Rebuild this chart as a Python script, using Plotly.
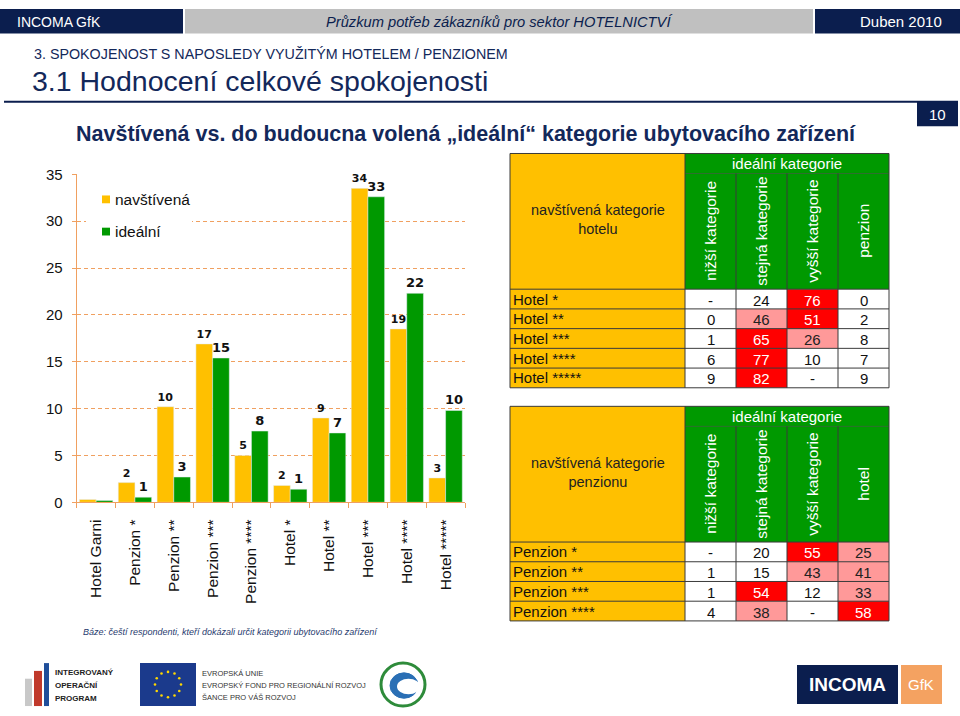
import math
import plotly.graph_objects as go

W, H = 960, 716

# ---------------- data ----------------
categories = ["Hotel Garni", "Penzion *", "Penzion **", "Penzion ***", "Penzion ****",
              "Hotel *", "Hotel **", "Hotel ***", "Hotel ****", "Hotel *****"]
navstivena = [0.3, 2.1, 10.2, 16.9, 5.0, 1.8, 9.0, 33.5, 18.5, 2.6]
idealni = [0.2, 0.55, 2.7, 15.4, 7.6, 1.4, 7.4, 32.6, 22.3, 9.8]
navstivena_labels = ["", "2", "10", "17", "5", "2", "9", "34", "19", "3"]
idealni_labels = ["", "1", "3", "15", "8", "1", "7", "33", "22", "10"]
series_names = ["navštívená", "ideální"]
y_ticks = [0, 5, 10, 15, 20, 25, 30, 35]

hotel_rows = ["Hotel *", "Hotel **", "Hotel ***", "Hotel ****", "Hotel *****"]
hotel_cols = ["nižší kategorie", "stejná kategorie", "vyšší kategorie", "penzion"]
hotel_nizsi = [None, 0, 1, 6, 9]
hotel_stejna = [24, 46, 65, 77, 82]
hotel_vyssi = [76, 51, 26, 10, None]
hotel_penzion = [0, 2, 8, 7, 9]

penzion_rows = ["Penzion *", "Penzion **", "Penzion ***", "Penzion ****"]
penzion_cols = ["nižší kategorie", "stejná kategorie", "vyšší kategorie", "hotel"]
penzion_nizsi = [None, 1, 1, 4]
penzion_stejna = [20, 15, 54, 38]
penzion_vyssi = [55, 43, 12, None]
penzion_hotel = [25, 41, 33, 58]

# ---------------- style ----------------
NAVY = "#0B1E4E"
TXT_NAVY = "#13285A"
ORANGE = "#FFC000"
GREEN = "#009900"
RED = "#FF0000"
PINK = "#FF9999"
AXIS_OR = "#F0A060"
FONT = "Liberation Sans"
BOLD = "DejaVu Sans"

shapes = []
annotations = []


def px(x):
    return x / W


def py(y):
    return 1 - y / H


def rect(x0, y0, x1, y1, fill, line=None, lw=0, kind="rect"):
    shapes.append(dict(type=kind, xref="paper", yref="paper",
                       x0=px(x0), x1=px(x1), y0=py(y1), y1=py(y0),
                       fillcolor=fill, line=dict(color=line or fill, width=lw),
                       layer="above"))


def hline(x0, x1, y, color="#3A3A3A", w=1):
    shapes.append(dict(type="line", xref="paper", yref="paper",
                       x0=px(x0), x1=px(x1), y0=py(y), y1=py(y),
                       line=dict(color=color, width=w), layer="above"))


def vline(x, y0, y1, color="#3A3A3A", w=1):
    shapes.append(dict(type="line", xref="paper", yref="paper",
                       x0=px(x), x1=px(x), y0=py(y0), y1=py(y1),
                       line=dict(color=color, width=w), layer="above"))


def text(x, y, s, size, color, xanchor="center", angle=0, family=FONT, yanchor="middle"):
    annotations.append(dict(xref="paper", yref="paper", x=px(x), y=py(y), text=s,
                            showarrow=False, font=dict(size=size, color=color, family=family),
                            xanchor=xanchor, yanchor=yanchor, textangle=angle,
                            borderpad=0, align="center"))


# ---------------- header ----------------
rect(0, 0, 183, 25, NAVY)
rect(185, 0, 813, 25, "#C0C0C0")
rect(815, 0, 960, 25, NAVY)
text(16, 13, "INCOMA GfK", 14, "white", xanchor="left")
text(499, 13, "<i>Průzkum potřeb zákazníků pro sektor HOTELNICTVÍ</i>", 14.7, NAVY)
text(943, 13, "Duben 2010", 15, "white", xanchor="right")

text(33, 46, "3. SPOKOJENOST S NAPOSLEDY VYUŽITÝM HOTELEM / PENZIONEM", 14.3, TXT_NAVY, xanchor="left")
text(31, 74, "3.1 Hodnocení celkové spokojenosti", 28.5, TXT_NAVY, xanchor="left")
hline(4, 958, 95, NAVY, 2)
rect(917, 95, 958, 120, NAVY)
text(937.5, 108, "10", 15, "white")

text(466, 128, "<b>Navštívená vs. do budoucna volená „ideální“ kategorie ubytovacího zařízení</b>",
     21.5, TXT_NAVY, family=FONT)

text(82, 638, "<i>Báze: čeští respondenti, kteří dokázali určit kategorii ubytovacího zařízení</i>",
     9, "#1F3A6E", xanchor="left")


# ---------------- tables ----------------
def cell_style(v):
    if v is None:
        return "white", "#111"
    if v > 50:
        return RED, "white"
    if v >= 25:
        return PINK, "#222"
    return "white", "#111"


def draw_table(top, title, row_labels, col_headers, columns):
    x_left, x_split, cw = 510, 685, 51
    h1, h2, rh = 20.5, 118.5, 20.2
    n = len(row_labels)
    y_hb = top + h1 + h2
    bottom = y_hb + n * rh
    x_right = x_split + cw * len(col_headers)
    rect(x_left, top, x_split, bottom, ORANGE)
    rect(x_split, top, x_right, y_hb, GREEN)
    text((x_left + x_split) / 2, top + (h1 + h2) / 2 - 2, title, 14.5, "#222")
    text((x_split + x_right) / 2, top + h1 / 2, "ideální kategorie", 15, "white")
    for j, hdr in enumerate(col_headers):
        text(x_split + cw * (j + 0.5), top + h1 + h2 / 2, hdr, 15.5, "white", angle=-90)
    for i, lab in enumerate(row_labels):
        y0 = y_hb + i * rh
        text(x_left + 2, y0 + rh / 2, lab, 15, "#111", xanchor="left")
        for j, col in enumerate(columns):
            v = col[i]
            fill, fc = cell_style(v)
            rect(x_split + cw * j, y0, x_split + cw * (j + 1), y0 + rh, fill)
            text(x_split + cw * (j + 0.5), y0 + rh / 2 + 1, "-" if v is None else str(v), 15, fc)
    hline(x_left, x_right, top)
    hline(x_split, x_right, top + h1, "#2F6F2F")
    hline(x_left, x_right, y_hb)
    for i in range(1, n):
        hline(x_left, x_right, y_hb + i * rh)
    hline(x_left, x_right, bottom)
    vline(x_left, top, bottom)
    vline(x_split, top, bottom)
    for j in range(1, len(col_headers)):
        vline(x_split + cw * j, top + h1, bottom)
    vline(x_right, top, bottom)


draw_table(148, "navštívená kategorie<br>hotelu", hotel_rows, hotel_cols,
           [hotel_nizsi, hotel_stejna, hotel_vyssi, hotel_penzion])
draw_table(407, "navštívená kategorie<br>penzionu", penzion_rows, penzion_cols,
           [penzion_nizsi, penzion_stejna, penzion_vyssi, penzion_hotel])

# ---------------- chart legend (manual, white box hides grid) ----------------
rect(86, 176, 192, 244, "white")
for k, (nm, col) in enumerate(zip(series_names, [ORANGE, GREEN])):
    yc = 195 + k * 33
    rect(102, yc - 4, 110, yc + 4, col)
    text(114, yc, nm, 15.5, "#111", xanchor="left")

# ---------------- logos ----------------
rect(25, 686, 32, 714, "#C8C8C8")
rect(34, 678, 42, 714, "#C0392B")
rect(44, 670, 49, 714, "#1F4E9A")
for k, s in enumerate(["INTEGROVANÝ", "OPERAČNÍ", "PROGRAM"]):
    text(54, 680 + k * 13, "<b>" + s + "</b>", 8, "#222", xanchor="left")
rect(140, 670, 196, 714, "#1B3A8C")
for k in range(12):
    a = 2 * math.pi * k / 12
    cx, cy = 168 + 13 * math.cos(a), 692 + 13 * math.sin(a)
    rect(cx - 1.3, cy - 1.3, cx + 1.3, cy + 1.3, "#FFD700", kind="circle")
for k, s in enumerate(["EVROPSKÁ UNIE", "EVROPSKÝ FOND PRO REGIONÁLNÍ ROZVOJ", "ŠANCE PRO VÁŠ ROZVOJ"]):
    text(201, 681 + k * 12, s, 7.5, "#333", xanchor="left")
rect(381, 670, 425, 714, "white", "#2E8B3A", 3, kind="circle")
rect(390, 680, 418, 706, "#2A6FB5", "#2A6FB5", 1, kind="circle")
rect(397, 686, 420, 702, "white", "white", 0, kind="circle")
rect(797, 672, 898, 712, NAVY)
rect(901, 672, 942, 712, "#F4A261")
text(847, 692, "<b>INCOMA</b>", 19, "white")
text(921, 692, "GfK", 15, "white")

# ---------------- chart ----------------
fig = go.Figure()
for nm, vals, labs, col, sz in [(series_names[0], navstivena, navstivena_labels, ORANGE, 11),
                                (series_names[1], idealni, idealni_labels, GREEN, 13)]:
    fig.add_trace(go.Bar(x=categories, y=vals, name=nm, marker_color=col,
                         text=labs, textposition="outside", cliponaxis=False,
                         textfont=dict(family=BOLD, size=sz, color="#111", weight="bold"),
                         textangle=0, constraintext="none", hoverinfo="skip",
                         showlegend=False))

fig.update_layout(
    width=W, height=H, autosize=False,
    margin=dict(l=0, r=0, t=0, b=0, pad=0),
    paper_bgcolor="white", plot_bgcolor="white",
    barmode="group", bargap=0.14, bargroupgap=0,
    font=dict(family=FONT, size=14, color="#111"),
    showlegend=False,
    xaxis=dict(domain=[px(76.7), px(465)], type="category", showline=True,
               linecolor=AXIS_OR, linewidth=1, ticks="outside", tickson="boundaries",
               ticklen=5, tickcolor=AXIS_OR, tickangle=-90, showgrid=False,
               ticklabelstandoff=10,
               tickfont=dict(family=FONT, size=15.5, color="#111"), fixedrange=True),
    yaxis=dict(domain=[py(505.3), py(169.3)], range=[0, 35], tickvals=y_ticks,
               showline=True, linecolor=AXIS_OR, linewidth=1, ticks="outside",
               ticklen=4, tickcolor=AXIS_OR, showgrid=True, gridcolor=AXIS_OR,
               griddash="4px,3px", gridwidth=1, zeroline=False, ticklabelstandoff=6,
               tickfont=dict(family=FONT, size=15, color="#111"), fixedrange=True),
    shapes=shapes,
    annotations=annotations,
)

css_fix = (
    "document.documentElement.style.margin='0';"
    "document.documentElement.style.padding='0';"
    "document.documentElement.style.overflow='hidden';"
    "document.body.style.margin='0';document.body.style.padding='0';"
    "document.body.style.overflow='hidden';document.body.style.height='716px';"
    "var gd=document.getElementById('{plot_id}');"
    "gd.style.position='fixed';gd.style.top='0px';gd.style.left='0px';"
)

fig.write_html("out.html", config={"displayModeBar": False}, post_script=css_fix)
